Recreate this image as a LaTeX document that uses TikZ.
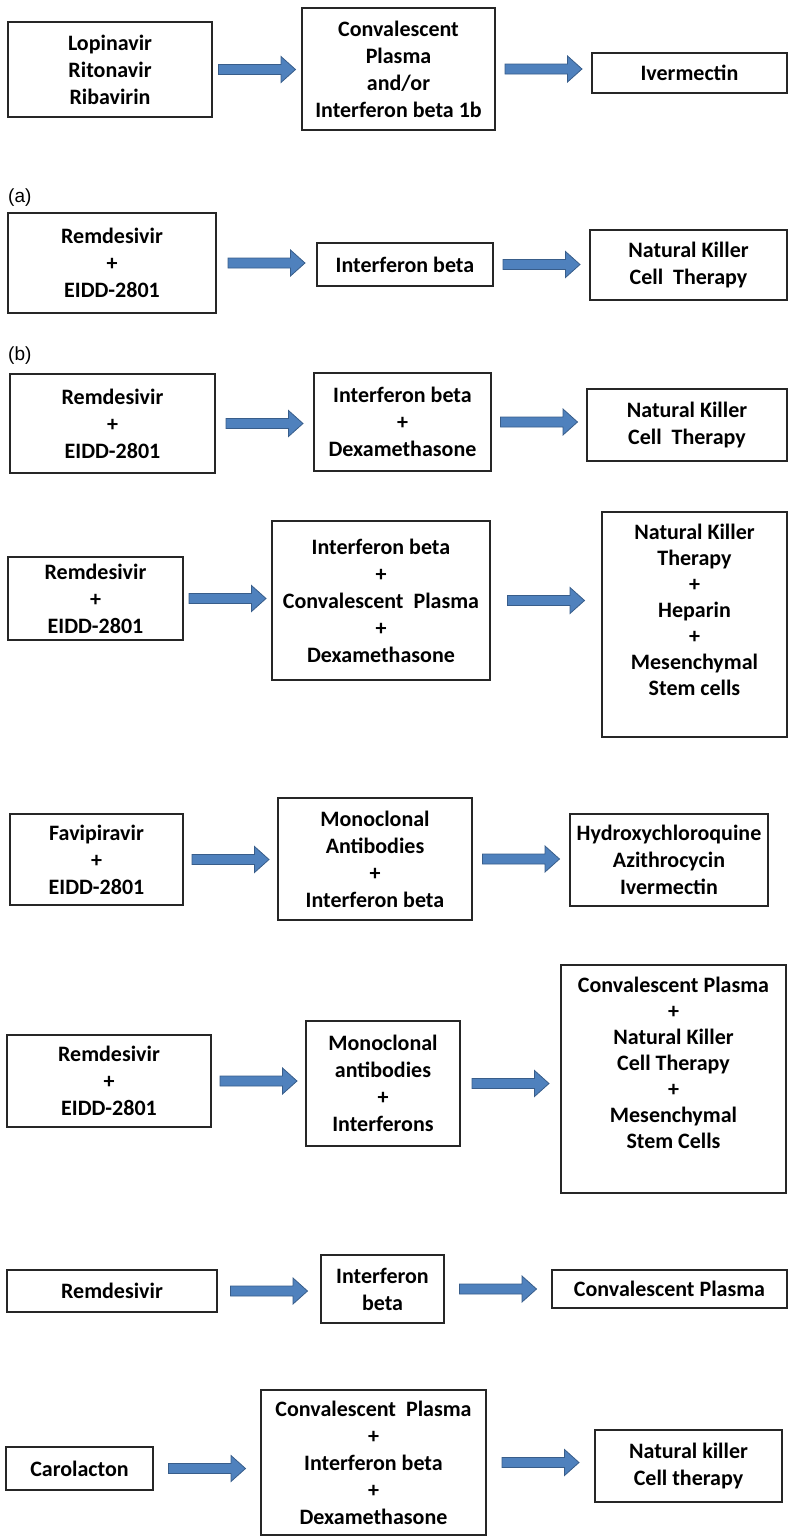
\documentclass[tikz,border=0pt]{standalone}
\usepackage{fontspec}
\setmainfont{Carlito}
\newfontfamily\labfont{Liberation Sans}
\usetikzlibrary{calc}
\definecolor{arrfill}{RGB}{79,129,189}
\definecolor{arrline}{RGB}{56,93,138}

\begin{document}
\begin{tikzpicture}[x=1pt,y=-1pt,
  box/.style={draw=black!85,line width=1.1pt,inner sep=0pt,outer sep=0pt,align=center,
    font=\fontsize{22}{27}\selectfont\bfseries},
  blockarr/.style={draw=arrline,fill=arrfill,line width=0.8pt,
    to path={let \p1=(\tikztostart),\p2=(\tikztotarget),\n1={0.5*(\x1+\x2)} in
      (\n1-38.5pt,\y1-5pt) -- (\n1+24pt,\y1-5pt) -- (\n1+24pt,\y1-13pt) -- (\n1+38.5pt,\y1)
      -- (\n1+24pt,\y1+13pt) -- (\n1+24pt,\y1+5pt) -- (\n1-38.5pt,\y1+5pt) -- cycle}},
  tag/.style={font=\labfont\fontsize{19}{22}\selectfont,anchor=west,inner sep=0pt}]
\useasboundingbox (0,0) rectangle (788,1539);

% first line
\node[box,minimum width=204pt,minimum height=95pt] (a1) at (110,69.5) {Lopinavir\\Ritonavir\\Ribavirin};
\node[box,minimum width=193pt,minimum height=122pt] (b1) at (398.5,69) {Convalescent\\Plasma\\and/or\\Interferon beta 1b};
\node[box,minimum width=195pt,minimum height=40pt] (c1) at (689.5,73) {Ivermectin};
\draw[blockarr] (a1.east) to (b1.west);
\draw[blockarr] (b1.east) to (c1.west);

% (a)
\node[tag] (ta) at (8,198) {(a)};
\node[box,minimum width=208pt,minimum height=100pt] (a2) at (112,263) {Remdesivir\\+\\EIDD-2801};
\node[box,minimum width=176pt,minimum height=43pt] (b2) at (405,264.5) {Interferon beta};
\node[box,minimum width=197pt,minimum height=70pt] (c2) at (688.5,265) {Natural Killer\\Cell\ \ Therapy};
\draw[blockarr] (a2.east) to (b2.west);
\draw[blockarr] (b2.east) to (c2.west);

% (b)
\node[tag] (tb) at (8,356) {(b)};
\node[box,minimum width=205pt,minimum height=99pt] (a3) at (112.5,423.5) {Remdesivir\\+\\EIDD-2801};
\node[box,minimum width=177pt,minimum height=98pt] (b3) at (402.5,422) {Interferon beta\\+\\Dexamethasone};
\node[box,minimum width=200pt,minimum height=72pt] (c3) at (687,425) {Natural Killer\\Cell\ \ Therapy};
\draw[blockarr] (a3.east) to (b3.west);
\draw[blockarr] (b3.east) to (c3.west);

% fourth line
\node[box,minimum width=175pt,minimum height=83pt] (a4) at (95.5,598.5) {Remdesivir\\+\\EIDD-2801};
\node[box,minimum width=218pt,minimum height=159pt] (b4) at (381,600.5) {Interferon beta\\+\\Convalescent\ \ Plasma\\+\\Dexamethasone};
\node[box,minimum width=185pt,minimum height=225pt] (c4) at (694.5,624.5) {\fontsize{22}{26}\selectfont\raisebox{7.5pt}[0pt][0pt]{\begin{tabular}{@{}c@{}}Natural Killer\\Therapy\\+\\Heparin\\+\\Mesenchymal\\Stem cells\end{tabular}}};
\draw[blockarr] (a4.east) to (b4.west);
\draw[blockarr] (b4.east) to (c4.west);

% fifth line
\node[box,minimum width=173pt,minimum height=91pt] (a5) at (96.5,859.5) {Favipiravir\\+\\EIDD-2801};
\node[box,minimum width=194pt,minimum height=122pt] (b5) at (375,859) {Monoclonal\\Antibodies\\+\\Interferon beta};
\node[box,minimum width=198pt,minimum height=92pt] (c5) at (669,860) {Hydroxychloroquine\\Azithrocycin\\Ivermectin};
\draw[blockarr] (a5.east) to (b5.west);
\draw[blockarr] (b5.east) to (c5.west);

% sixth line
\node[box,minimum width=204pt,minimum height=92pt] (a6) at (109,1081) {Remdesivir\\+\\EIDD-2801};
\node[box,minimum width=154pt,minimum height=125pt] (b6) at (383,1083.5) {Monoclonal\\antibodies\\+\\Interferons};
\node[box,minimum width=225pt,minimum height=228pt] (c6) at (673.5,1079) {\fontsize{22}{26}\selectfont\raisebox{9pt}[0pt][0pt]{\begin{tabular}{@{}c@{}}Convalescent Plasma\\+\\Natural Killer\\Cell Therapy\\+\\Mesenchymal\\Stem Cells\end{tabular}}};
\draw[blockarr] (a6.east) to (b6.west);
\draw[blockarr] (b6.east) to (c6.west);

% seventh line
\node[box,minimum width=210pt,minimum height=42pt] (a7) at (112,1291) {Remdesivir};
\node[box,minimum width=123pt,minimum height=68pt] (b7) at (382.5,1289) {Interferon\\beta};
\node[box,minimum width=235pt,minimum height=38pt] (c7) at (669.5,1289) {Convalescent Plasma};
\draw[blockarr] (a7.east) to (b7.west);
\draw[blockarr] (b7.east) to (c7.west);

% last line
\node[box,minimum width=147pt,minimum height=43pt] (a8) at (79.5,1468.5) {Carolacton};
\node[box,minimum width=225pt,minimum height=145pt] (b8) at (373.5,1462.5) {Convalescent\ \ Plasma\\+\\Interferon beta\\+\\Dexamethasone};
\node[box,minimum width=187pt,minimum height=72pt] (c8) at (688.5,1466) {Natural killer\\Cell therapy};
\draw[blockarr] (a8.east) to (b8.west);
\draw[blockarr] (b8.east) to (c8.west);
\end{tikzpicture}
\end{document}
